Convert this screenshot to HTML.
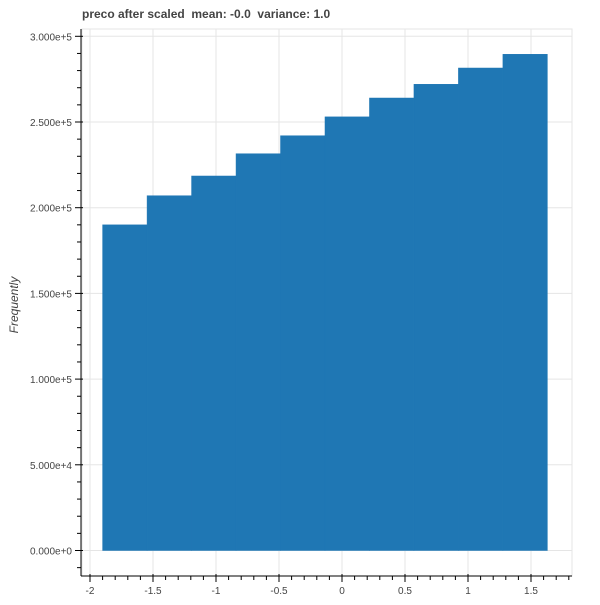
<!DOCTYPE html>
<html><head><meta charset="utf-8"><style>
body{margin:0;background:#fff;}
svg text{font-family:"Liberation Sans",Arial,sans-serif;}
</style></head><body>
<svg id="chart" width="600" height="600" xmlns="http://www.w3.org/2000/svg">
<rect width="600" height="600" fill="#fff"/>
<text x="82" y="18" font-size="12" font-weight="bold" fill="#444" style="white-space:pre">preco after scaled  mean: -0.0  variance: 1.0</text>
<text transform="translate(18,305) rotate(-90)" text-anchor="middle" font-size="12" font-style="italic" fill="#444">Frequently</text>
<g id="grid"></g><g id="bars"></g><g id="axes"></g>
</svg>
<script>
const binEdges=[-1.9,-1.547,-1.194,-0.841,-0.488,-0.135,0.218,0.571,0.924,1.277,1.63];
const counts=[190000,207000,218500,231500,242000,253000,264000,272000,281500,289500];
const xTicks=[-2,-1.5,-1,-0.5,0,0.5,1,1.5];
const xTickLabels=["-2","-1.5","-1","-0.5","0","0.5","1","1.5"];
const yTicks=[0,50000,100000,150000,200000,250000,300000];
const yTickLabels=["0.000e+0","5.000e+4","1.000e+5","1.500e+5","2.000e+5","2.500e+5","3.000e+5"];

const NS="http://www.w3.org/2000/svg";
const L=82,R=572,T=29,B=576;
const sx=v=>342+v*126;
const sy=v=>550.5-v/50000*85.7;
function mk(tag,attrs,parent){const e=document.createElementNS(NS,tag);for(const k in attrs)e.setAttribute(k,attrs[k]);parent.appendChild(e);return e;}
const grid=document.getElementById('grid'),bars=document.getElementById('bars'),axes=document.getElementById('axes');
mk('rect',{x:L,y:T,width:R-L,height:B-T,fill:'none',stroke:'#e5e5e5'},grid);
xTicks.forEach(v=>{const l=mk('line',{x1:sx(v),x2:sx(v),y1:T,y2:B,stroke:'#e5e5e5'},grid);

});
yTicks.forEach(v=>{const l=mk('line',{x1:L,x2:R,y1:sy(v),y2:sy(v),stroke:'#e5e5e5'},grid);

});
counts.forEach((c,i)=>{const x0=sx(binEdges[i]),x1=sx(binEdges[i+1]);
const r=mk('rect',{x:x0,y:sy(c),width:x1-x0,height:sy(0)-sy(c),fill:'#1f77b4',stroke:'#1f77b4','stroke-width':0.5},bars);

});
mk('line',{x1:L-1,x2:L-1,y1:T,y2:B,stroke:'#000'},axes);
for(let v=-10000;v<=300000;v+=10000){const y=sy(v);if(y<T||y>B)continue;const major=v%50000===0;
mk('line',{x1:L-1-(major?6:4),x2:L-1+(major?2:0),y1:y,y2:y,stroke:'#000'},axes);}
yTicks.forEach((v,i)=>{const t=mk('text',{x:L-10,y:sy(v)+4,'text-anchor':'end','font-size':10,fill:'#444'},axes);t.textContent=yTickLabels[i];

});
mk('line',{x1:L-1,x2:R,y1:B,y2:B,stroke:'#000'},axes);
for(let k=-21;k<=18;k++){const v=k/10,x=sx(v);if(x<L||x>R)continue;const major=k%5===0;
mk('line',{x1:x,x2:x,y1:B-(major?2:0),y2:B+(major?6:4),stroke:'#000'},axes);}
xTicks.forEach((v,i)=>{const t=mk('text',{x:sx(v),y:B+18,'text-anchor':'middle','font-size':10,fill:'#444'},axes);t.textContent=xTickLabels[i];

});
</script>
</body></html>
